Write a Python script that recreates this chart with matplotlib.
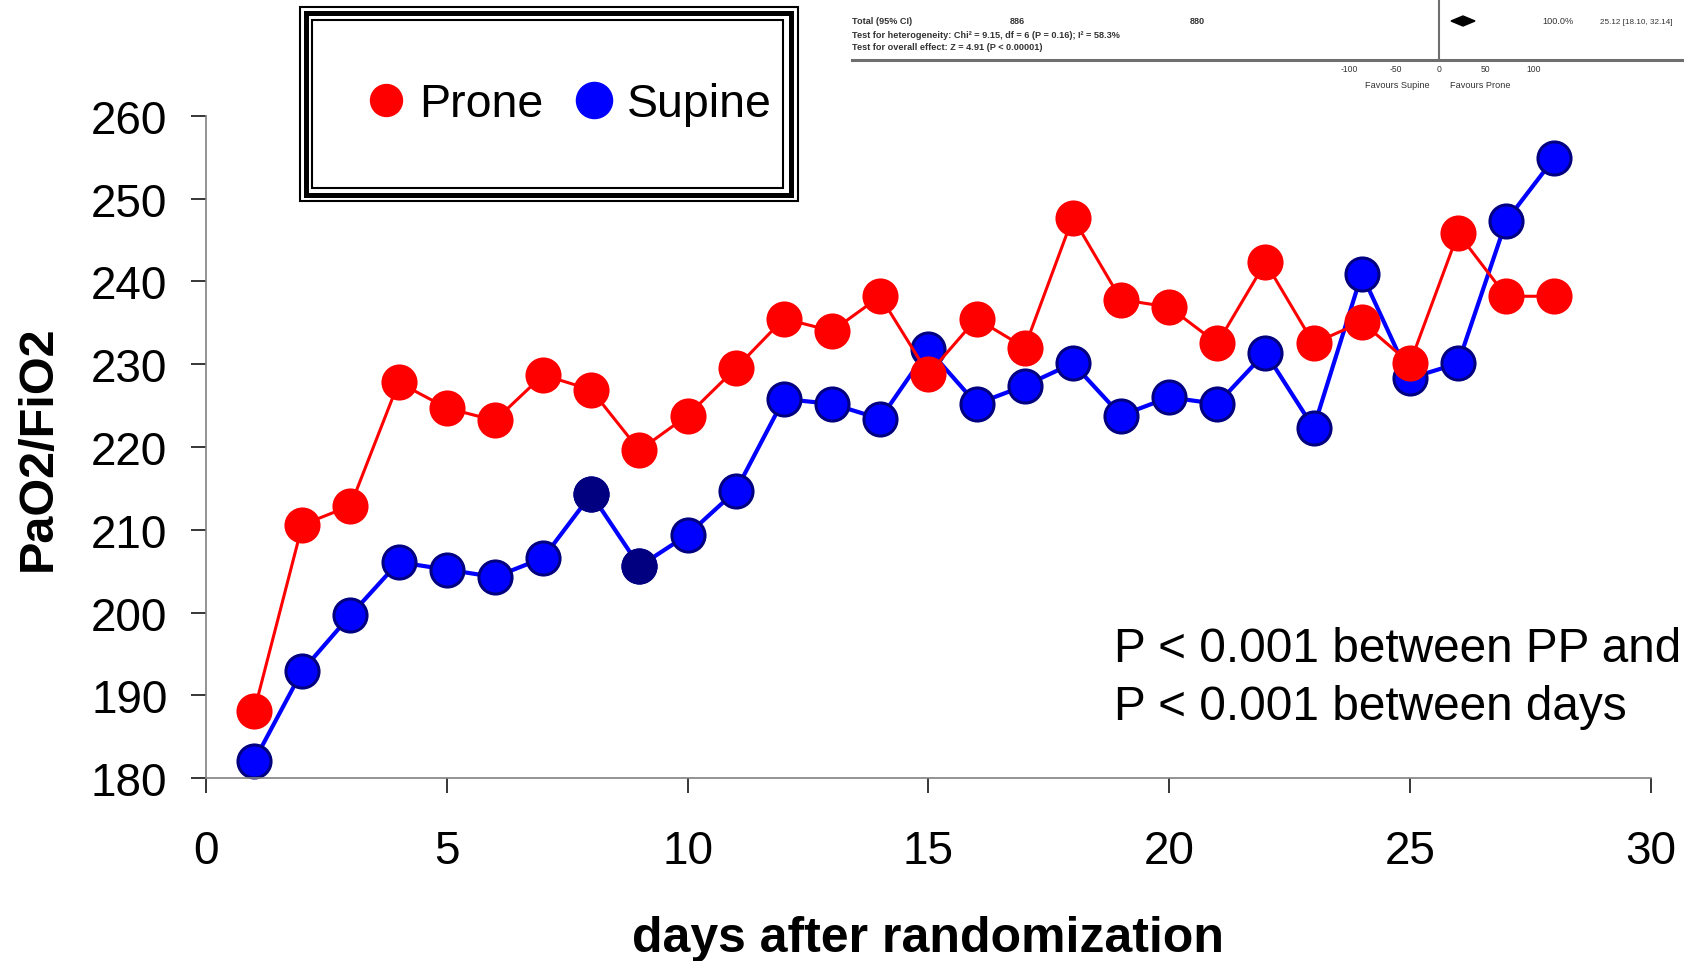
import numpy as np
import matplotlib
matplotlib.use('Agg')
import matplotlib.pyplot as plt
from matplotlib.patches import Rectangle, Polygon
from matplotlib.lines import Line2D

plt.rcParams['font.family'] = ['Liberation Sans', 'DejaVu Sans']

# PaO2/FiO2 by day after randomization
days = list(range(1, 29))
prone = [188.1, 210.6, 212.9, 227.8, 224.7, 223.2, 228.7, 226.9, 219.6, 223.8,
         229.5, 235.5, 234.0, 238.2, 228.8, 235.5, 232.0, 247.7, 237.8, 236.9,
         232.5, 242.3, 232.5, 235.1, 230.1, 245.8, 238.2, 238.2]
supine = [182.1, 193.0, 199.7, 206.1, 205.2, 204.3, 206.6, 214.3, 205.6, 209.4,
          214.7, 225.8, 225.2, 223.4, 231.8, 225.2, 227.4, 230.1, 223.8, 226.0,
          225.2, 231.4, 222.3, 240.9, 228.3, 230.1, 247.3, 254.9]
supine_dark = [8, 9]          # days drawn with a navy fill
xticks = [0, 5, 10, 15, 20, 25, 30]
yticks = [180, 190, 200, 210, 220, 230, 240, 250, 260]
series_names = ['Prone', 'Supine']
stats_lines = ['P < 0.001 between PP and', 'P < 0.001 between days']

# bits of the forest plot that sits over the top right corner
forest_rows = ['Total (95% CI)',
               'Test for heterogeneity: Chi\u00b2 = 9.15, df = 6 (P = 0.16); I\u00b2 = 58.3%',
               'Test for overall effect: Z = 4.91 (P < 0.00001)']
forest_ticks = [-100, -50, 0, 50, 100]
forest_favours = ['Favours Supine', 'Favours Prone']

W, H = 1684, 962
def fx(px): return px / W
def fy(py): return 1 - py / H

fig = plt.figure(figsize=(W / 100, H / 100), dpi=100)
ax = fig.add_axes([fx(206), fy(779.3), (1650.7 - 206) / W, (779.3 - 116.7) / H])

ax.plot(days, supine, color='#0000ff', lw=3, marker='o', ms=23.8, mfc='#0000ff',
        mec='#000080', mew=2.2, zorder=2, clip_on=False)
ax.plot(supine_dark, [supine[d - 1] for d in supine_dark], ls='none', marker='o',
        ms=23.8, mfc='#000080', mec='#000080', mew=2.2, zorder=2.5, clip_on=False)
ax.plot(days, prone, color='#ff0000', lw=2.2, marker='o', ms=26, mfc='#ff0000',
        mec='#ff0000', mew=0, zorder=3, clip_on=False)

ax.set_xlim(0, 30)
ax.set_ylim(180, 260)
ax.set_xticks(xticks)
ax.set_yticks(yticks)
for s in ['top', 'right']:
  ax.spines[s].set_visible(False)
for s in ['left', 'bottom']:
  ax.spines[s].set_color('#808080')
  ax.spines[s].set_linewidth(1.2)
ax.tick_params(direction='out', length=10.8, width=1.1, color='black', labelsize=33)
ax.tick_params(axis='y', pad=17)
ax.tick_params(axis='x', pad=26)

ax.set_xlabel('days after randomization', fontsize=36, fontweight='bold')
ax.xaxis.set_label_coords(0.5, -0.2065)
ax.set_ylabel('PaO2/FiO2', fontsize=35, fontweight='bold')
ax.yaxis.set_label_coords(-0.1005, 0.5)

ax.text(18.85, 194.2, stats_lines[0], fontsize=34.4, va='baseline')
ax.text(18.85, 187.2, stats_lines[1], fontsize=34.4, va='baseline')

# legend with a triple border
handles = [Line2D([], [], ls='none', marker='o', ms=23, color='#ff0000', label=series_names[0]),
           Line2D([], [], ls='none', marker='o', ms=26, color='#0000ff', label=series_names[1])]
fig.legend(handles=handles, ncol=2, loc='center', bbox_to_anchor=(fx(572), fy(105)),
           frameon=False, fontsize=33.5, handlelength=0.6, handletextpad=0.4,
           columnspacing=0.8, borderpad=0, borderaxespad=0)
for (x0, x1, y0, y1, lw) in [(300, 798, 7.5, 202, 1.5), (305.5, 790.5, 13.5, 195.5, 3.6),
                             (311.5, 783, 20.5, 188.5, 1.5)]:
  fig.add_artist(Rectangle((fx(x0), fy(y1)), (x1 - x0) / W, (y1 - y0) / H,
                           transform=fig.transFigure, fill=False, ec='black', lw=lw))

# forest plot fragment
fc = '#333333'
fs = 6.6
fig.text(fx(852), fy(22), forest_rows[0], fontsize=fs, fontweight='bold', color=fc, va='center')
fig.text(fx(1010), fy(22), '886', fontsize=fs, fontweight='bold', color=fc, va='center')
fig.text(fx(1190), fy(22), '880', fontsize=fs, fontweight='bold', color=fc, va='center')
fig.text(fx(1558), fy(22), '100.0%', fontsize=fs, color=fc, va='center', ha='center')
fig.text(fx(1600), fy(22), '25.12 [18.10, 32.14]', fontsize=5.9, color=fc, va='center')
fig.text(fx(852), fy(35), forest_rows[1], fontsize=fs, fontweight='bold', color=fc, va='center')
fig.text(fx(852), fy(47), forest_rows[2], fontsize=fs, fontweight='bold', color=fc, va='center')
fig.add_artist(Polygon([(fx(1451), fy(22)), (fx(1463), fy(17)), (fx(1475), fy(22)), (fx(1463), fy(27))],
                       closed=True, transform=fig.transFigure, fc='black', ec='black'))
fig.add_artist(Line2D([fx(852), fx(1684)], [fy(61), fy(61)], transform=fig.transFigure,
                      color='#6e6e6e', lw=2.2))
fig.add_artist(Line2D([fx(1439), fx(1439)], [fy(0), fy(61)], transform=fig.transFigure,
                      color='#6e6e6e', lw=1.5))
for t, px in zip(forest_ticks, [1349, 1396, 1439, 1485, 1534]):
  fig.text(fx(px), fy(69), str(t), fontsize=6.2, color=fc, va='center', ha='center')
fig.text(fx(1397), fy(86), forest_favours[0], fontsize=fs, color=fc, va='center', ha='center')
fig.text(fx(1480), fy(86), forest_favours[1], fontsize=fs, color=fc, va='center', ha='center')

fig.savefig('out.png', dpi=100)
